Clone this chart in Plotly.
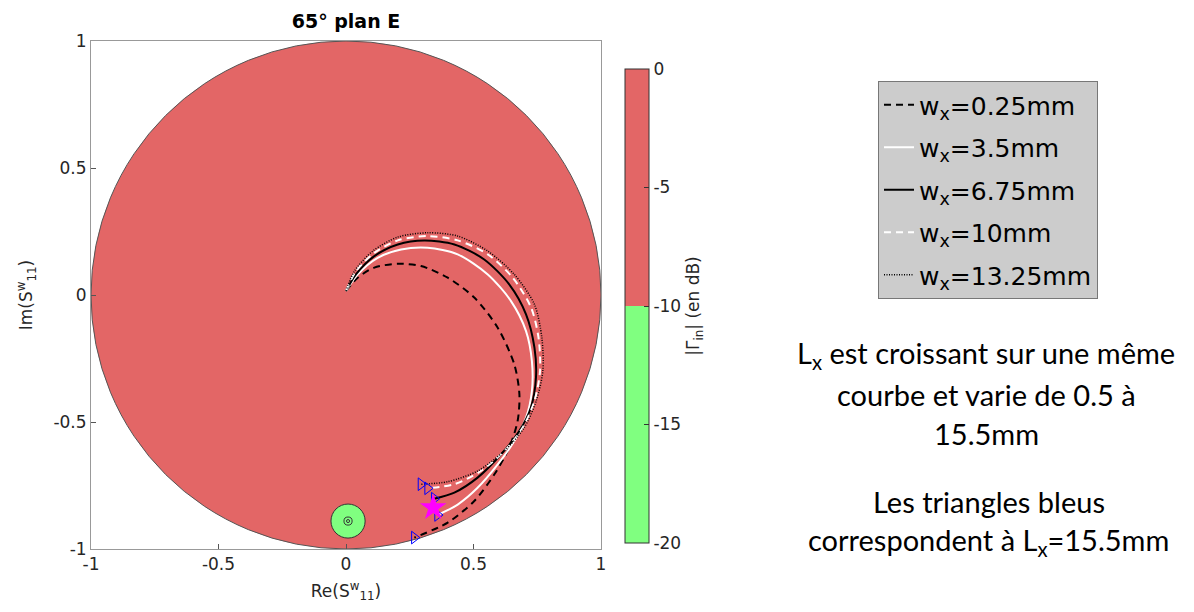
import plotly.graph_objects as go

# ---- data ----
x_025 = [0.0, 0.046, 0.111, 0.203, 0.294, 0.399, 0.503, 0.595, 0.660, 0.680, 0.673, 0.640, 0.582, 0.503, 0.399, 0.268]
y_025 = [0.016, 0.068, 0.108, 0.123, 0.114, 0.068, -0.010, -0.129, -0.273, -0.391, -0.496, -0.601, -0.706, -0.811, -0.896, -0.955]

x_35 = [0.0, 0.046, 0.124, 0.216, 0.320, 0.438, 0.556, 0.647, 0.706, 0.729, 0.729, 0.706, 0.660, 0.595, 0.516, 0.438, 0.359]
y_35 = [0.016, 0.081, 0.146, 0.179, 0.186, 0.160, 0.081, -0.024, -0.142, -0.260, -0.378, -0.483, -0.575, -0.667, -0.759, -0.825, -0.866]

x_675 = [0.0, 0.039, 0.111, 0.203, 0.307, 0.425, 0.542, 0.640, 0.706, 0.739, 0.745, 0.725, 0.680, 0.608, 0.516, 0.425, 0.346]
y_675 = [0.016, 0.081, 0.153, 0.199, 0.215, 0.199, 0.140, 0.042, -0.076, -0.207, -0.325, -0.443, -0.535, -0.627, -0.719, -0.778, -0.802]

x_10 = [0.0, 0.039, 0.111, 0.203, 0.320, 0.438, 0.556, 0.654, 0.726, 0.755, 0.761, 0.739, 0.693, 0.621, 0.529, 0.425, 0.320]
y_10 = [0.016, 0.094, 0.166, 0.215, 0.232, 0.215, 0.160, 0.068, -0.050, -0.168, -0.299, -0.417, -0.522, -0.614, -0.693, -0.745, -0.761]

x_1325 = [0.0, 0.033, 0.105, 0.203, 0.320, 0.438, 0.556, 0.660, 0.739, 0.768, 0.772, 0.746, 0.699, 0.621, 0.516, 0.399, 0.294]
y_1325 = [0.016, 0.094, 0.173, 0.228, 0.245, 0.232, 0.173, 0.081, -0.037, -0.168, -0.299, -0.417, -0.522, -0.614, -0.693, -0.735, -0.745]

names = ["w<sub>x</sub>=0.25mm", "w<sub>x</sub>=3.5mm", "w<sub>x</sub>=6.75mm",
         "w<sub>x</sub>=10mm", "w<sub>x</sub>=13.25mm"]

star_x = [0.342]
star_y = [-0.837]

green_cx, green_cy, green_r = 0.008, -0.89, 0.067

cbar_ticks = [0, -5, -10, -15, -20]
axis_ticks = [-1, -0.5, 0, 0.5, 1]
axis_ticklabels = ["-1", "-0.5", "0", "0.5", "1"]

note_lines = ["L<sub>x</sub> est croissant sur une même", "courbe et varie de 0.5 à", "15.5mm",
              "Les triangles bleus", "correspondent à L<sub>x</sub>=15.5mm"]
note_y_px = [353, 393, 432, 500, 540]
note_x_px = [985, 985, 985, 988, 988]

RED = "#E36666"
GREEN = "#80FF80"
W, H = 1194, 612
OX, OY = 7, 7  # page offset of the figure inside the browser window


def px(xp):
    return (xp - OX) / W


def py(yp):
    return 1 - (yp - OY) / H


fig = go.Figure()

series = [
    (x_025, y_025, "black", 2, "7px,5px"),
    (x_35, y_35, "white", 2, "solid"),
    (x_675, y_675, "black", 2, "solid"),
    (x_10, y_10, "white", 2, "7px,5px"),
    (x_1325, y_1325, "black", 1.5, "1px,1.5px"),
]
for i, ((xs, ys, col, w, dash), nm) in enumerate(zip(series, names)):
    fig.add_trace(go.Scatter(x=xs, y=ys, mode="lines", name=nm, legendgroup=f"g{i}",
                             line=dict(color=col, width=w, dash=dash, shape="spline", smoothing=0.8)))

# blue triangles at curve ends
end_x = [s[0][-1] for s in series]
end_y = [s[1][-1] for s in series]
fig.add_trace(go.Scatter(x=end_x, y=end_y, mode="markers", showlegend=False,
                         marker=dict(symbol="triangle-right-open", size=11,
                                     color="blue", line=dict(width=1, color="blue"))))

fig.add_trace(go.Scatter(x=star_x, y=star_y, mode="markers", showlegend=False,
                         marker=dict(symbol="star", size=20, color="#FF00FF",
                                     line=dict(width=0))))

# colorbar carrier
fig.add_trace(go.Scatter(x=[0, 0], y=[0, 0], mode="markers", showlegend=False, hoverinfo="skip",
                         marker=dict(opacity=0, color=[-20, 0], cmin=-20, cmax=0,
                                     colorscale=[[0, GREEN], [0.5, GREEN], [0.5, RED], [1, RED]],
                                     showscale=True,
                                     colorbar=dict(
                                         x=px(624), xanchor="left", xref="paper",
                                         y=py(305), yanchor="middle",
                                         len=(542 - 68) / H, lenmode="fraction",
                                         thickness=24, thicknessmode="pixels",
                                         xpad=0, ypad=0,
                                         outlinewidth=1, outlinecolor="#333333",
                                         tickvals=cbar_ticks, ticktext=[str(t) for t in cbar_ticks],
                                         ticks="inside", ticklen=5, tickcolor="#333333",
                                         tickfont=dict(family="DejaVu Sans", size=17, color="#262626"),
                                         title=dict(text="|Γ<sub>in</sub>| (en dB)", side="right",
                                                    font=dict(family="DejaVu Sans", size=17, color="#262626")),
                                     ))))

shapes = [
    dict(type="circle", xref="x", yref="y", x0=-1, y0=-1, x1=1, y1=1,
         fillcolor=RED, line=dict(color="#555555", width=1), layer="below"),
    dict(type="circle", xref="x", yref="y", x0=green_cx - green_r, y0=green_cy - green_r,
         x1=green_cx + green_r, y1=green_cy + green_r,
         fillcolor=GREEN, line=dict(color="#333333", width=1), layer="below"),
    dict(type="circle", xref="x", yref="y", x0=green_cx - 0.016, y0=green_cy - 0.016,
         x1=green_cx + 0.016, y1=green_cy + 0.016,
         line=dict(color="#333333", width=1), layer="below"),
    dict(type="circle", xref="x", yref="y", x0=green_cx - 0.006, y0=green_cy - 0.006,
         x1=green_cx + 0.006, y1=green_cy + 0.006,
         line=dict(color="#333333", width=1), layer="below"),
]

axis_common = dict(range=[-1, 1], tickvals=axis_ticks, ticktext=axis_ticklabels,
                   ticks="inside", ticklen=5, tickcolor="#555555",
                   showline=True, linecolor="#999999", linewidth=1, mirror=True,
                   showgrid=False, zeroline=False, automargin=False,
                   tickfont=dict(family="DejaVu Sans", size=17, color="#262626"))

annotations = [
    dict(xref="paper", yref="paper", x=px(xp), y=py(yp),
         xanchor="center", yanchor="middle", showarrow=False, text=t,
         font=dict(family="Lato", size=29, color="black"))
    for t, xp, yp in zip(note_lines, note_x_px, note_y_px)
]

fig.update_layout(
    width=W, height=H,
    margin=dict(l=0, r=0, t=0, b=0, autoexpand=False),
    paper_bgcolor="white", plot_bgcolor="white",
    shapes=shapes,
    xaxis=dict(domain=[px(90), px(600)],
               title=dict(text="Re(S<sup>w</sup><sub>11</sub>)", standoff=11,
                          font=dict(family="DejaVu Sans", size=17, color="#262626")),
               **axis_common),
    yaxis=dict(domain=[py(548), py(40)],
               title=dict(text="Im(S<sup>w</sup><sub>11</sub>)", standoff=16,
                          font=dict(family="DejaVu Sans", size=17, color="#262626")),
               **axis_common),
    title=dict(text="<b>65° plan E</b>", x=px(345), xanchor="center",
               y=py(20), yanchor="middle",
               font=dict(family="DejaVu Sans", size=19, color="black")),
    legend=dict(x=px(877), y=py(80), xanchor="left", yanchor="top",
                bgcolor="#CCCCCC", bordercolor="#777777", borderwidth=1,
                itemwidth=30, tracegroupgap=7, traceorder="grouped",
                font=dict(family="DejaVu Sans", size=25, color="black")),
    annotations=annotations,
)

fig.write_html("out.html")
